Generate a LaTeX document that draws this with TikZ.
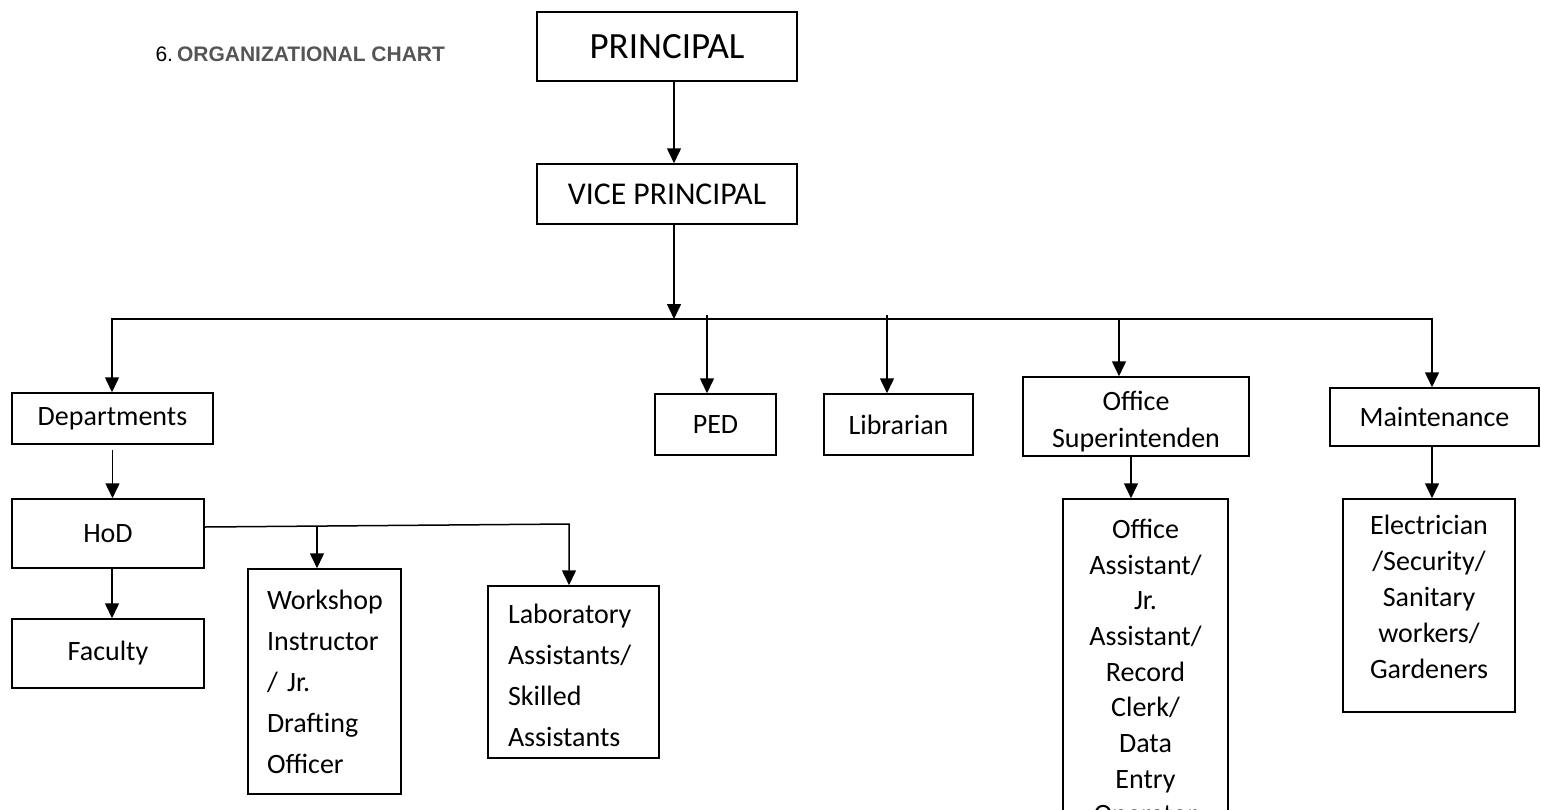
\documentclass[tikz,border=0pt]{standalone}
\usepackage{fontspec}
\setmainfont{Carlito}
\newfontfamily\titlefont{Liberation Sans}
\usetikzlibrary{arrows.meta}
\definecolor{titlegray}{RGB}{85,85,85}
\tikzset{
box/.style={draw, line width=1.5pt, inner sep=0pt, font=\fontsize{28}{36.5}\selectfont},
link/.style={line width=1.5pt, -{Triangle[width=14pt,length=15pt]}},
plain/.style={line width=1.5pt}
}

\begin{document}
\begin{tikzpicture}[x=1pt,y=-1pt]
    \useasboundingbox (0,0) rectangle (1541,809);
    \node[anchor=west, font=\titlefont\fontsize{21}{25}\selectfont] (title) at (152,54)
        {6.\hspace{4pt}{\color{titlegray}\bfseries ORGANIZATIONAL CHART}};
    % top of the chart
    \node[box, minimum width=260pt, minimum height=69pt, font=\fontsize{37}{44}\selectfont] (principal) at (667,46.5) {PRINCIPAL};
    \node[box, minimum width=260pt, minimum height=60pt, font=\fontsize{31.7}{38}\selectfont] (vice) at (667,194) {VICE PRINCIPAL};
    \coordinate (busL) at (112,319);
    \coordinate (busR) at (1432,319);
    % second row
    \node[box, minimum width=201pt, minimum height=51pt] (dept) at (112.5,418.5) {Departments};
    \node[box, minimum width=121pt, minimum height=61pt] (ped) at (715.5,424.5) {PED};
    \node[box, minimum width=149pt, minimum height=61pt] (librarian) at (898.5,424.5) {Librarian};
    \node[box, minimum width=226pt, minimum height=79pt] (office) at (1136,416.5) {};
    \node[font=\fontsize{28}{37}\selectfont, align=center, inner sep=0pt] (officetext) at ([yshift=-5pt]office.center) {Office\\Superintenden};
    \node[box, minimum width=209pt, minimum height=58pt] (maint) at (1434.5,417) {Maintenance};
    % departments branch
    \node[box, minimum width=192pt, minimum height=69pt] (hod) at (108,533.5) {HoD};
    \node[box, minimum width=192pt, minimum height=69pt] (faculty) at (108,653.5) {Faculty};
    \node[box, minimum width=153pt, minimum height=225pt, align=left, text width=115pt,
        font=\fontsize{28}{41}\selectfont] (workshop) at (324.5,681.5)
        {Workshop\\Instructor\\/ Jr.\\Drafting\\Officer};
    \node[box, minimum width=171pt, minimum height=172pt, align=left, text width=131pt,
        font=\fontsize{28}{41}\selectfont] (lab) at (573.5,672)
        {\rule{0pt}{27pt}Laboratory\\Assistants/\\Skilled\\Assistants};
    % office and maintenance staff
    \node[box, minimum width=165pt, minimum height=361pt, align=center, font=\fontsize{28}{35.7}\selectfont] (offasst) at (1145.5,679.5)
        {Office\\Assistant/\\Jr.\\Assistant/\\Record\\Clerk/\\Data\\Entry\\Operator\rule[-16pt]{0pt}{0pt}};
    \node[box, minimum width=172pt, minimum height=213pt, align=center, font=\fontsize{28}{36}\selectfont] (elec) at (1429,605.5)
        {Electrician\\/Security/\\Sanitary\\workers/\\Gardeners\rule[-18pt]{0pt}{0pt}};
    \coordinate (pedtop) at (707,315);
    \coordinate (libtop) at (887,315);
    \coordinate (offtop) at (1119,319);
    \coordinate (wsjoin) at (317,525.5);
    \coordinate (labjoin) at (569,524);
    % connectors
    \draw[link] ([xshift=7pt]principal.south) -- ([xshift=7pt]vice.north);
    \draw[link] ([xshift=7pt]vice.south) -- ([xshift=7pt]vice.south |- busL);
    \draw[plain, {Triangle[width=14pt,length=15pt]}-{Triangle[width=14pt,length=15pt]}]
        (busL |- dept.north) -- (busL) -- (busR) -- (busR |- maint.north);
    \draw[link] (pedtop) -- (pedtop |- ped.north);
    \draw[link] (libtop) -- (libtop |- librarian.north);
    \draw[link] (offtop) -- (offtop |- office.north);
    \draw[link] ([yshift=-5pt]dept.south) -- (dept.south |- hod.north);
    \draw[link] ([xshift=4pt]hod.south) -- ([xshift=4pt]faculty.north);
    \draw[link] ([yshift=6.5pt]hod.east) -- (labjoin) -- (labjoin |- lab.north);
    \draw[link] (wsjoin) -- (wsjoin |- workshop.north);
    \draw[link] ([xshift=-5pt]office.south) -- ([xshift=-5pt]office.south |- offasst.north);
    \draw[link] ([xshift=-2.5pt]maint.south) -- ([xshift=-2.5pt]maint.south |- elec.north);
\end{tikzpicture}
\end{document}
